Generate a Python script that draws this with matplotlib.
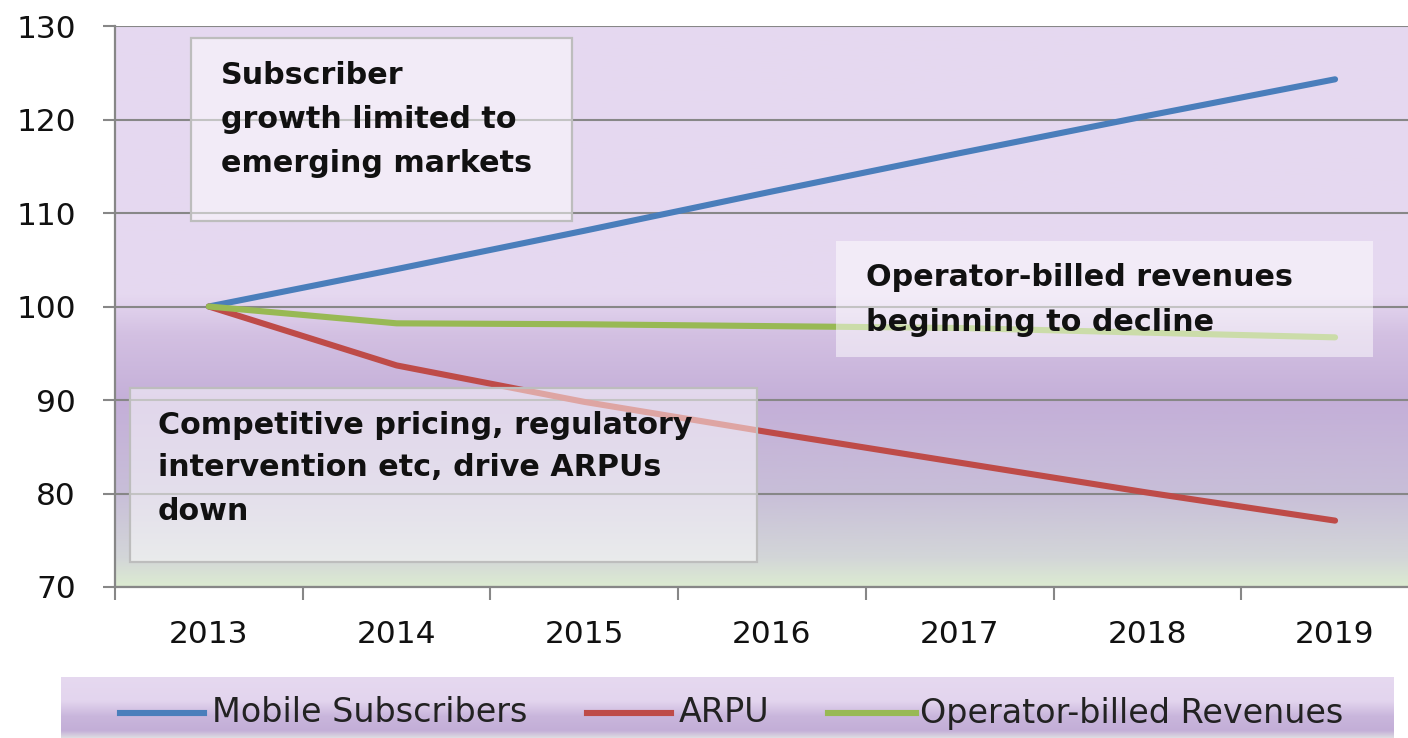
import matplotlib
matplotlib.use('Agg')
import matplotlib.pyplot as plt
import numpy as np
from matplotlib.colors import LinearSegmentedColormap
from matplotlib.patches import Rectangle
from matplotlib.lines import Line2D

plt.rcParams['font.family'] = ['DejaVu Sans']

# Data
years = ['2013', '2014', '2015', '2016', '2017', '2018', '2019']
subscribers = [100, 104.0, 108.1, 112.3, 116.4, 120.4, 124.3]
arpu = [100, 93.7, 89.8, 86.5, 83.3, 80.1, 77.1]
revenues = [100, 98.2, 98.1, 97.9, 97.7, 97.2, 96.7]
series_names = ['Mobile Subscribers', 'ARPU', 'Operator-billed Revenues']
series_colors = ['#4a7ebb', '#be4b48', '#98b954']

W, H = 1408, 738
fig = plt.figure(figsize=(W / 100, H / 100), dpi=100)
fig.patch.set_facecolor('white')


def fx(x):
    return x / W


def fy(y):
    return 1 - y / H


# plot area in pixels: left 115, top 26, bottom 587, 7 categories of 187.7 px
ax = fig.add_axes([fx(115), fy(587), fx(7 * 187.7), (587 - 26) / H])

# background gradient (lavender -> purple -> pale green)
bg_cmap = LinearSegmentedColormap.from_list('bg', [
    (0.0, '#dcebd1'), (0.05, '#d3d6d8'), (0.17, '#c8bed8'),
    (0.33, '#c4afd8'), (0.45, '#d3c0e2'), (0.52, '#e5d8f0'), (1.0, '#e6d9f0')])
grad = np.linspace(0, 1, 256).reshape(-1, 1)
ax.imshow(grad, cmap=bg_cmap, extent=[0, 1, 0, 1], transform=ax.transAxes,
          origin='lower', aspect='auto', zorder=-2)

x = np.arange(len(years))
for vals, name, col in zip([subscribers, arpu, revenues], series_names, series_colors):
    ax.plot(x, vals, color=col, lw=4.4, label=name, solid_capstyle='round', zorder=3)

ax.set_xlim(-0.5, 6.5)
ax.set_ylim(70, 130)
ax.set_yticks(range(70, 131, 10))
ax.set_xticks(x)
ax.set_xticklabels(years)
ax.set_xticks(np.arange(-0.5, 7, 1), minor=True)

grid_col = '#878787'
ax.yaxis.grid(True, color=grid_col, lw=1.5, zorder=0.5)
ax.set_axisbelow(True)
for side in ['top', 'right']:
    ax.spines[side].set_visible(False)
for side in ['left', 'bottom']:
    ax.spines[side].set_color(grid_col)
    ax.spines[side].set_linewidth(1.6)

ax.tick_params(axis='y', length=9, width=1.5, color=grid_col, labelsize=22.5,
               pad=19, labelcolor='#111111')
ax.tick_params(axis='x', which='major', length=0, labelsize=22.5, pad=24,
               labelcolor='#111111')
ax.tick_params(axis='x', which='minor', length=9, width=1.5, color=grid_col)

# annotation boxes
boxes = [
    (191, 38, 572, 221, True, 221, [75, 120, 163],
     ['Subscriber', 'growth limited to', 'emerging markets']),
    (130, 388, 757, 562, True, 158, [425, 468, 512],
     ['Competitive pricing, regulatory', 'intervention etc, drive ARPUs', 'down']),
    (836, 241, 1373, 357, False, 866, [278, 322],
     ['Operator-billed revenues', 'beginning to decline']),
]
for x0, y0, x1, y1, border, tx, tys, lines in boxes:
    rect = Rectangle((fx(x0), fy(y1)), fx(x1 - x0), (y1 - y0) / H,
                     transform=fig.transFigure, facecolor='white', alpha=0.5,
                     edgecolor='none', zorder=5, clip_on=False)
    ax.add_patch(rect)
    if border:
        edge = Rectangle((fx(x0), fy(y1)), fx(x1 - x0), (y1 - y0) / H,
                         transform=fig.transFigure, facecolor='none',
                         edgecolor='#bdbdbd', lw=1.6, zorder=6, clip_on=False)
        ax.add_patch(edge)
    for ty, line in zip(tys, lines):
        ax.text(fx(tx), fy(ty), line, transform=fig.transFigure, fontsize=21.7,
                fontweight='bold', color='#111111', va='center', ha='left',
                zorder=7)

# legend strip
lax = fig.add_axes([fx(61), 0, fx(1394 - 61), (738 - 677) / H])
leg_cmap = LinearSegmentedColormap.from_list('leg', [
    (0.0, '#dedde2'), (0.12, '#c3aed7'), (0.35, '#c9b6dc'),
    (0.6, '#e3d5ee'), (1.0, '#e6d9f0')])
lax.imshow(grad, cmap=leg_cmap, extent=[0, 1, 0, 1], origin='lower',
           aspect='auto', zorder=0)
lax.set_xlim(0, 1)
lax.set_ylim(0, 1)
lax.axis('off')

leg_items = [(120, 204, 212), (587, 671, 679), (828, 916, 920)]
for (l0, l1, t0), name, col in zip(leg_items, series_names, series_colors):
    fig.add_artist(Line2D([fx(l0), fx(l1)], [fy(713), fy(713)], color=col,
                          lw=4.4, transform=fig.transFigure))
    fig.text(fx(t0), fy(713), name, fontsize=24, color='#222222',
             va='center', ha='left')

fig.savefig('out.png', dpi=100, facecolor='white')
